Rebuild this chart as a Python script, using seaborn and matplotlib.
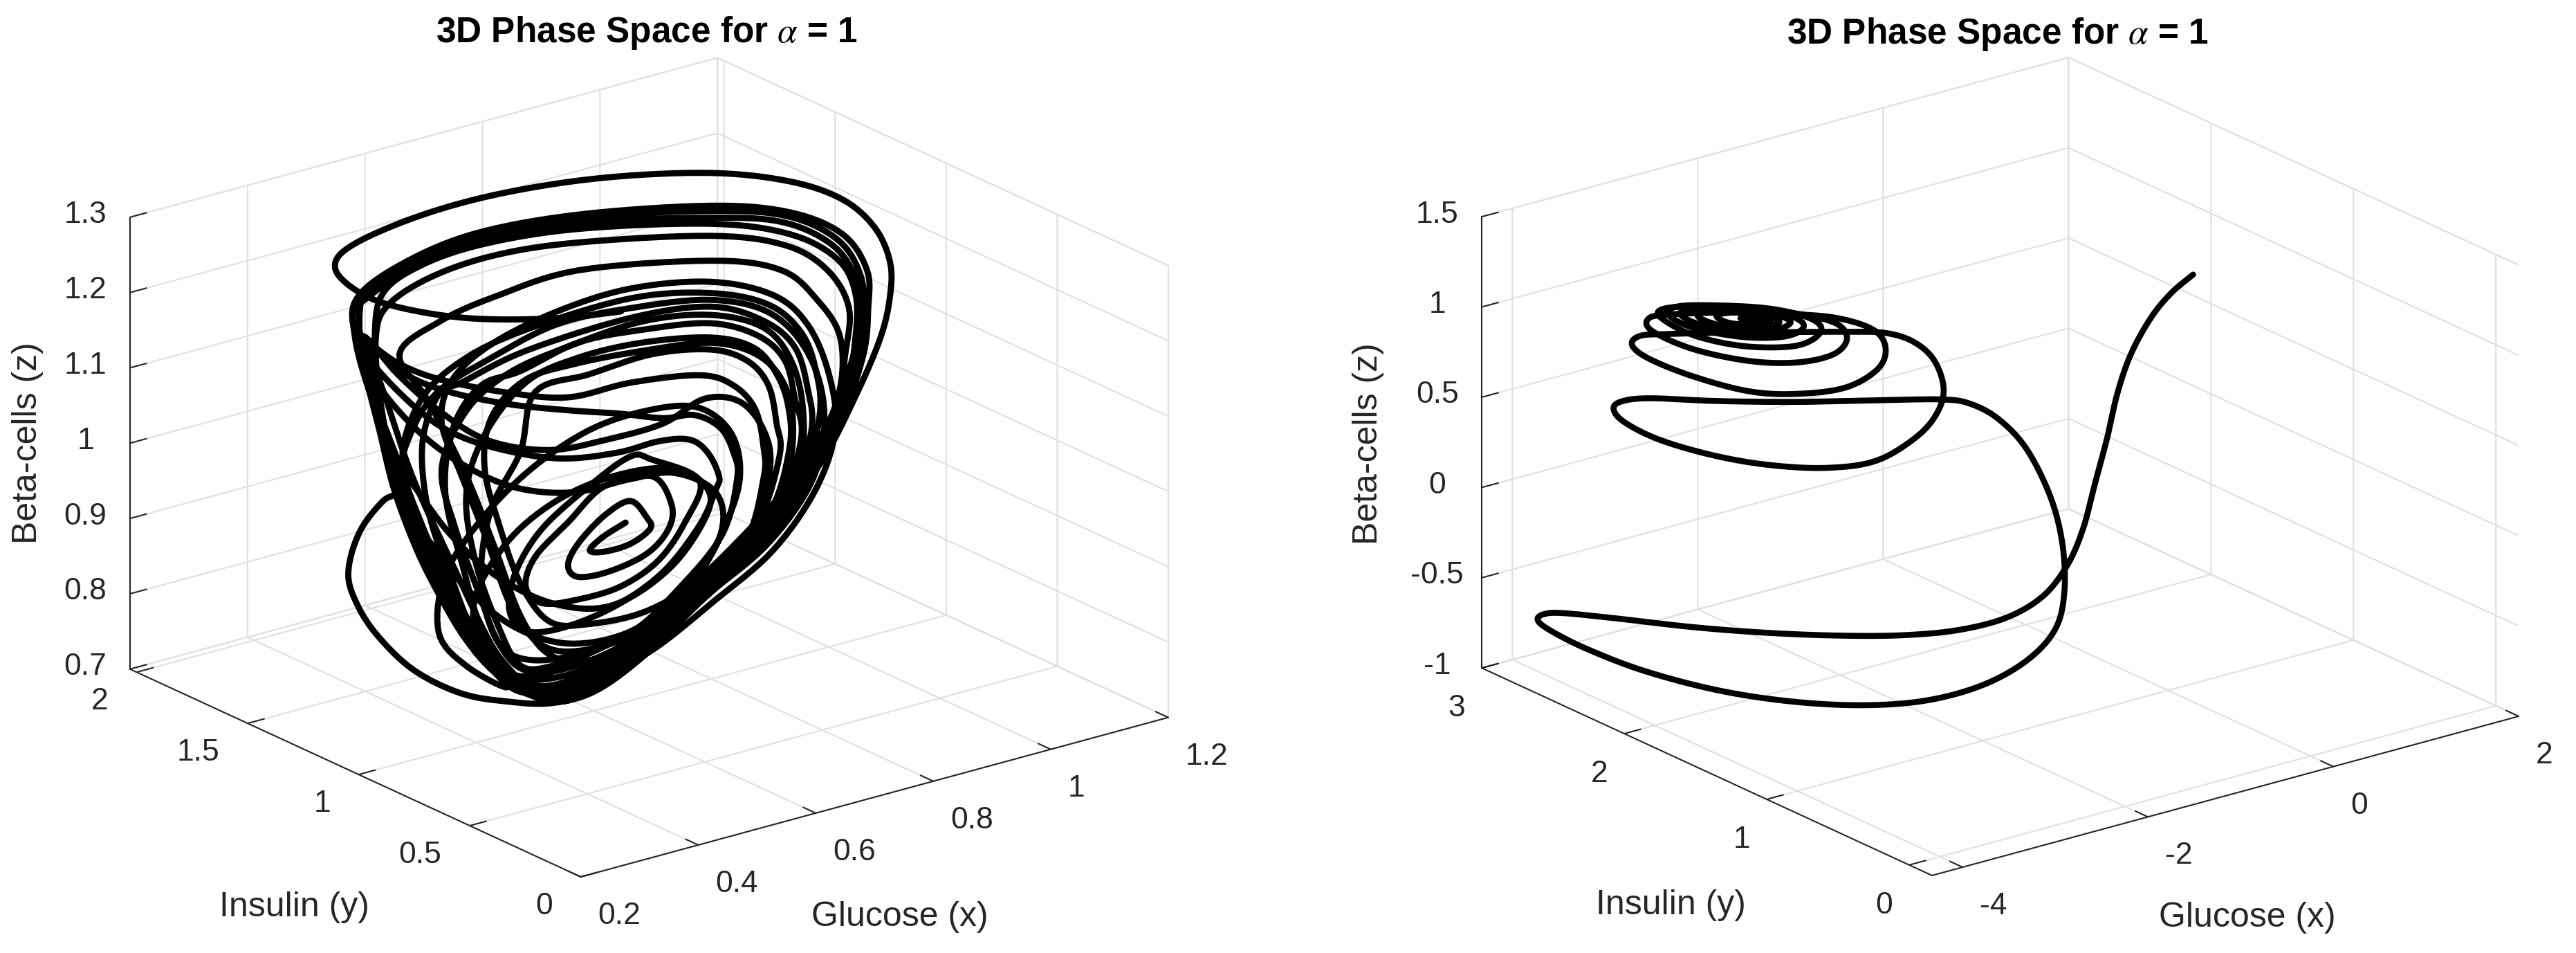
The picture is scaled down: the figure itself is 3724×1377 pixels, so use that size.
import matplotlib
matplotlib.use("Agg")
import matplotlib.pyplot as plt
import numpy as np
import seaborn as sns
from mpl_toolkits.mplot3d import proj3d

# chaotic run, values
glucose_a = [
    .703, .594, .451, .334, .393, .349, .377, .494, .636, .807, .988, .990, 1.080, 1.135, 1.161, 1.161,
    1.144, 1.099, 1.043, .946, .837, .739, .658, .585, .513, .432, .351, .289, .253, .239, .258, .298,
    .334, .309, .272, .250,
    .253, .326, .451, .630, .856, .990, 1.080, 1.122, 1.124, 1.116, 1.080, 1.027, .934, .828, .733, .644, .594,
    .541, .488, .432, .370, .328, .292, .264, .256,
    .261, .331, .454, .630, .856, .985, 1.071, 1.110, 1.116, 1.105, 1.068, 1.013, .920, .817, .722, .636, .588,
    .532, .479, .426, .365, .323, .286, .261, .259,
    .270, .337, .460, .630, .856, .979, 1.063, 1.102, 1.110, 1.096, 1.057, 1.001, .909, .806, .714, .627, .582,
    .527, .474, .420, .359, .317, .289, .284,
    .298, .362, .468, .630, .856, .990, 1.071, 1.102, 1.102, 1.083, 1.032, .915, .812, .717, .627, .582,
    .524, .471, .415, .354, .314, .292, .286,
    .306, .379, .488, .630, .856, .982, 1.054, 1.091, 1.085, 1.068, 1.007, .901, .801, .705, .622, .574,
    .515, .460, .404, .348, .309, .275, .261,
    .326, .395, .504, .613, .719,
    .837, .895, .932, .946, .946, .915, .831, .747, .650, .580, .532, .490, .440, .376, .326,
    .395, .488, .630, .856, .974, 1.035, 1.077, 1.071, 1.013, .901, .795, .700, .616, .566,
    .510, .454, .393, .337, .298, .270, .264,
    .328, .404, .510, .616, .700,
    .775, .828, .873, .895, .901, .876, .803, .719, .608, .527, .485, .465, .482, .532,
    .557, .649, .756, .856, .918, .954, .968, .973, .934, .851, .756, .664, .588, .532,
    .493, .454, .440, .471,
    .541, .630, .739, .856, .929, .968, .988, .990, .957, .873, .775, .678, .594, .515,
    .468, .434, .404, .418, .465,
    .532, .630, .739, .856, .937, .982, .999, 1.010, .973, .890, .789, .686, .599, .524,
    .462, .418, .376, .365, .393,
    .432, .541, .719, .856, .946, .999, 1.021, 1.027, .990, .906, .803, .697, .608, .538,
    .476, .426, .365, .331, .362,
    .432, .541, .719, .856, .954, 1.010, 1.035, 1.041, 1.007, .923, .817, .711, .616, .555,
    .496, .443, .376,
    .440, .524, .622, .733, .831, .890, .906, .887, .831, .747, .650, .552, .468, .404, .393, .440, .510,
    .454, .393, .342, .326,
    .412, .496, .594, .691, .789, .851, .845, .789, .691, .594, .510, .454, .468, .524,
    .482, .412, .348, .300, .264,
    .286, .356, .435, .524, .622, .719, .795, .865, .873, .817, .733, .622, .543, .496, .460, .420, .398, .440,
    .510, .608, .739, .856, .946, .993, 1.013, 1.007, .957, .867, .761, .655, .580, .524, .476, .432, .393, .356,
    .328, .348, .393, .482, .594, .719, .856, .957, 1.021, 1.049, 1.032, .957, .851, .747, .638, .577, .527, .471,
    .418, .376, .337, .303, .275, .264,
    .323, .393, .476, .580, .678, .775, .845, .906, .946, .957, .929, .851, .747, .644, .580, .532, .496, .471,
    .482, .538, .622, .739, .856, .934, .979, .996, .985, .937, .845, .739, .636, .566, .515, .476, .432, .398,
    .415, .482, .594, .719, .856, .962, 1.021, 1.057, 1.068, 1.035, .962, .862, .756, .649, .588, .543, .482, .437,
    .398, .356, .317, .292, .264, .264,
    .267, .328, .398, .482, .594, .694, .767, .820, .851, .870, .865, .837, .775, .694, .605, .541, .513, .524,
    .569, .650, .719, .756,
    .837, .812, .767, .703, .630, .569, .541, .557, .613, .675, .756,
    .789, .784, .747, .683, .630, .613, .630, .675, .719,
    .747, .753, .719, .675, .650, .672, .711,
]
insulin_a = [
    1.15, 1.15, 1.15, 1.15, 1.5, 1.5, 1.5, 1.5, 1.5, 1.5, 1.5, 1.15, 1.15, 1.15, 1.15, 1.15,
    1.15, 1.15, 1.15, 1.15, 1.15, 1.15, 1.15, 1.15, 1.15, 1.15, 1.15, 1.15, 1.15, 1.15, 1.15, 1.15,
    1.15, 1.15, 1.15, 1.15, 1.15, 1.15, 1.15, 1.15, 1.15, 1.15, 1.15, 1.15, 1.15, 1.15, 1.15, 1.15, 1.15, 1.15, 1.15, 1.15, 1.15, 1.15, 1.15,
    1.15, 1.15, 1.15, 1.15, 1.15, 1.15, 1.15, 1.15, 1.15, 1.15, 1.15, 1.15, 1.15, 1.15, 1.15, 1.15, 1.15, 1.15, 1.15, 1.15, 1.15, 1.15, 1.15, 1.15, 1.15,
    1.15, 1.15, 1.15, 1.15, 1.15, 1.15, 1.15, 1.15, 1.15, 1.15, 1.15, 1.15, 1.15, 1.15, 1.15, 1.15, 1.15, 1.15, 1.15, 1.15, 1.15, 1.15, 1.15, 1.15, 1.15,
    1.15, 1.15, 1.15, 1.15, 1.15, 1.15, 1.15, 1.15, 1.15, 1.15, 1.15, 1.15, 1.15, 1.15, 1.15, 1.15, 1.15, 1.15, 1.15, 1.15, 1.15, 1.15, 1.15, 1.15, 1.15,
    1.15, 1.15, 1.15, 1.15, 1.15, 1.15, 1.15, 1.15, 1.15, 1.15, 1.15, 1.15, 1.15, 1.15, 1.15, 1.15, 1.15, 1.15, 1.15, 1.15, 1.15, 1.15, 1.15, 1.15, 1.15,
    1.15, 1.15, 1.15, 1.15, 1.15, 1.15, 1.15, 1.15, 1.15, 1.15, 1.15, 1.15, 1.15, 1.15, 1.15, 1.15, 1.15, 1.15, 1.15, 1.15, 1.15, 1.15, 1.15, 1.15, 1.15,
    1.15, 1.15, 1.15, 1.15, 1.15, 1.15, 1.15, 1.15, 1.15, 1.15, 1.15, 1.15, 1.15, 1.15, 1.15, 1.15, 1.15, 1.15, 1.15, 1.15, 1.15, 1.15, 1.15, 1.15, 1.15,
    1.15, 1.15, 1.15, 1.15, 1.15, 1.15, 1.15, 1.15, 1.15, 1.15, 1.15, 1.15, 1.15, 1.15, 1.15, 1.15, 1.15, 1.15, 1.15, 1.15, 1.15, 1.15, 1.15, 1.15, 1.15,
    1.15, 1.15, 1.15, 1.15, 1.15, 1.15, 1.15, 1.15, 1.15, 1.15, 1.15, 1.15, 1.15, 1.15, 1.15, 1.15, 1.15, 1.15, 1.15, 1.15, 1.15, 1.15, 1.15, 1.15, 1.15,
    1.15, 1.15, 1.15, 1.15, 1.15, 1.15, 1.15, 1.15, 1.15, 1.15, 1.15, 1.15, 1.15, 1.15, 1.15, 1.15, 1.15, 1.15, 1.15, 1.15, 1.15, 1.15, 1.15, 1.15, 1.15,
    1.15, 1.15, 1.15, 1.15, 1.15, 1.15, 1.15, 1.15, 1.15, 1.15, 1.15, 1.15, 1.15, 1.15, 1.15, 1.15, 1.15, 1.15, 1.15, 1.15, 1.15, 1.15, 1.15, 1.15, 1.15,
    1.15, 1.15, 1.15, 1.15, 1.15, 1.15, 1.15, 1.15, 1.15, 1.15, 1.15, 1.15, 1.15, 1.15, 1.15, 1.15, 1.15, 1.15, 1.15, 1.15, 1.15, 1.15, 1.15, 1.15, 1.15,
    1.15, 1.15, 1.15, 1.15, 1.15, 1.15, 1.15, 1.15, 1.15, 1.15, 1.15, 1.15, 1.15, 1.15, 1.15, 1.15, 1.15, 1.15, 1.15, 1.15, 1.15, 1.15, 1.15, 1.15, 1.15,
    1.15, 1.15, 1.15, 1.15, 1.15, 1.15, 1.15, 1.15, 1.15, 1.15, 1.15, 1.15, 1.15, 1.15, 1.15, 1.15, 1.15, 1.15, 1.15, 1.15, 1.15, 1.15, 1.15, 1.15, 1.15,
    1.15, 1.15, 1.15, 1.15, 1.15, 1.15, 1.15, 1.15, 1.15, 1.15, 1.15, 1.15, 1.15, 1.15, 1.15, 1.15, 1.15, 1.15, 1.15, 1.15, 1.15, 1.15, 1.15, 1.15, 1.15,
    1.15, 1.15, 1.15, 1.15, 1.15, 1.15, 1.15, 1.15, 1.15, 1.15, 1.15, 1.15, 1.15, 1.15, 1.15, 1.15, 1.15, 1.15, 1.15, 1.15, 1.15, 1.15, 1.15, 1.15, 1.15,
    1.15, 1.15, 1.15, 1.15, 1.15, 1.15, 1.15, 1.15, 1.15, 1.15, 1.15, 1.15, 1.15, 1.15, 1.15, 1.15, 1.15, 1.15, 1.15, 1.15, 1.15, 1.15, 1.15, 1.15, 1.15, 1.15, 1.15,
    1.15, 1.15, 1.15, 1.15, 1.15, 1.15, 1.15, 1.15, 1.15, 1.15, 1.15, 1.15, 1.15, 1.15, 1.15, 1.15, 1.15, 1.15, 1.15, 1.15, 1.15, 1.15, 1.15, 1.15, 1.15, 1.15, 1.15, 1.15, 1.15, 1.15,
    1.15, 1.15, 1.15, 1.15, 1.15, 1.15, 1.15, 1.15, 1.15, 1.15, 1.15, 1.15, 1.15, 1.15, 1.15, 1.15, 1.15, 1.15, 1.15, 1.15, 1.15, 1.15, 1.15, 1.15, 1.15, 1.15, 1.15, 1.15, 1.15, 1.15,
]
beta_a = [
    1.188, 1.202, 1.232, 1.270, 1.230, 1.272, 1.297, 1.312, 1.312, 1.296, 1.264, 1.300, 1.257, 1.208, 1.157, 1.111,
    1.058, .986, .915, .831, .773, .721, .693, .693, .710, .738, .786, .845, .896, .940, .989, 1.022,
    1.034, 1.103, 1.180, 1.251,
    1.300, 1.329, 1.344, 1.332, 1.296, 1.259, 1.211, 1.154, 1.103, 1.044, .969, .910, .838, .779, .727, .695, .693,
    .717, .770, .839, .954, 1.040, 1.144, 1.226, 1.282,
    1.303, 1.325, 1.339, 1.328, 1.289, 1.255, 1.206, 1.152, 1.101, 1.042, .969, .908, .836, .779, .729, .699, .698,
    .726, .781, .849, .964, 1.050, 1.149, 1.233, 1.286,
    1.297, 1.318, 1.331, 1.321, 1.280, 1.248, 1.200, 1.148, 1.098, 1.039, .967, .906, .834, .777, .731, .703, .702,
    .731, .788, .854, .972, 1.060, 1.155, 1.244,
    1.298, 1.321, 1.327, 1.313, 1.272, 1.230, 1.180, 1.128, 1.067, .988, .913, .833, .778, .730, .701, .700,
    .732, .791, .860, .978, 1.073, 1.165, 1.243,
    1.280, 1.302, 1.308, 1.295, 1.256, 1.217, 1.169, 1.111, 1.051, .980, .910, .834, .778, .733, .707, .708,
    .738, .802, .875, .983, 1.085, 1.186, 1.242,
    1.198, 1.163, 1.123, 1.093, 1.090,
    1.075, 1.049, 1.009, .955, .916, .837, .778, .746, .736, .759, .820, .916, 1.025, 1.137, 1.211,
    1.240, 1.253, 1.258, 1.223, 1.186, 1.135, 1.072, .992, .915, .840, .784, .738, .717, .719,
    .752, .821, .899, 1.003, 1.116, 1.203, 1.248,
    1.188, 1.146, 1.106, 1.075, 1.053,
    1.031, 1.024, .997, .959, .925, .856, .800, .758, .749, .766, .808, .888, .972, 1.038,
    1.112, 1.116, 1.120, 1.105, 1.077, 1.037, .983, .939, .855, .803, .766, .748, .742, .754,
    .817, .913, 1.003, 1.073,
    1.128, 1.142, 1.139, 1.121, 1.092, 1.049, 1.001, .946, .868, .807, .762, .739, .734, .747,
    .811, .906, 1.011, 1.095, 1.140,
    1.145, 1.162, 1.156, 1.140, 1.106, 1.064, 1.010, .955, .873, .810, .763, .733, .725, .741,
    .797, .887, .990, 1.084, 1.144,
    1.151, 1.170, 1.176, 1.162, 1.124, 1.078, 1.018, .960, .876, .813, .769, .730, .716, .729,
    .785, .862, .975, 1.070, 1.142,
    1.180, 1.198, 1.202, 1.180, 1.144, 1.095, 1.039, .977, .888, .818, .770, .727, .708, .717,
    .768, .832, .951,
    .876, .806, .764, .762, .807, .882, .937, .992, 1.034, 1.047, 1.042, 1.012, .964, .901, .827, .773, .730,
    .792, .893, 1.002, 1.060,
    .954, .878, .822, .801, .831, .890, .928, .962, .972, .960, .923, .858, .789, .741,
    .793, .921, 1.044, 1.164, 1.248,
    1.184, 1.104, 1.041, .992, .965, .962, .954, .913, .857, .797, .762, .742, .745, .790, .868, .963, 1.045, 1.112,
    1.146, 1.160, 1.167, 1.151, 1.115, 1.061, .992, .916, .846, .790, .747, .722, .711, .723, .768, .821, .882, .966,
    1.048, 1.106, 1.148, 1.173, 1.194, 1.189, 1.171, 1.132, 1.066, .984, .900, .829, .781, .737, .712, .705, .727, .778,
    .844, .918, 1.014, 1.102, 1.191, 1.248,
    1.185, 1.122, 1.065, 1.030, 1.023, 1.024, 1.042, 1.025, .979, .927, .852, .807, .781, .785, .803, .863, .948, 1.029,
    1.093, 1.131, 1.135, 1.128, 1.114, 1.082, 1.036, .978, .906, .837, .791, .756, .752, .775, .838, .930, 1.027, 1.104,
    1.157, 1.191, 1.211, 1.215, 1.195, 1.155, 1.103, 1.030, .954, .882, .816, .770, .727, .705, .705, .714, .760, .811,
    .870, .944, 1.033, 1.117, 1.211, 1.248,
    1.225, 1.158, 1.099, 1.055, 1.016, 1.002, 1.002, .993, .969, .934, .918, .876, .827, .799, .789, .798, .832, .880,
    .928, .968, .992, .980,
    .935, .885, .844, .823, .821, .829, .857, .893, .927, .962, .958,
    .914, .882, .857, .847, .851, .870, .895, .923, .933,
    .905, .889, .876, .875, .882, .895, .906,
]
# second run, spiralling in from the start point
glucose_b = [
    1.807, 1.572, 1.355, 1.138, .991, .878, .747, .617, .444, .183, -.208, -.729, -1.337, -2.031, -2.813, -3.595,
    -3.454, -4.062, -4.279, -4.340, -4.192, -3.801, -4.116, -3.334,
    -3.321, -2.540, -1.845, -1.237, -.760, -.456, -.352, -.369, -.499, -.760, -1.064, -1.368, -1.672,
    -1.597, -2.466, -3.334, -4.029,
    -3.411, -3.524, -3.411, -3.020, -2.412, -1.804, -1.196, -.675, -.241, -.024, .037, -.067, -.284, -.588, -1.022,
    -1.630, -2.238, -2.933, -3.237, -3.324, -3.150, -2.672, -2.065, -1.544, -1.023, -.675, -.588, -.718, -1.109,
    -1.630, -2.238, -2.933, -3.150, -3.107, -2.672, -2.065, -1.544, -1.153, -1.005, -1.109, -1.457, -1.891, -2.586,
    -2.976, -3.020, -2.672, -2.152, -1.630, -1.370, -1.283, -1.457, -1.891, -2.499, -2.846, -2.933, -2.672, -2.152,
    -1.717, -1.500, -1.500, -1.761, -2.238, -2.672, -2.803, -2.586, -2.152, -1.804, -1.613, -1.804, -2.195, -2.542,
    -2.603, -2.325, -1.978, -1.735, -1.891, -2.195, -2.412, -2.282, -1.978, -1.830, -1.978, -2.152, -2.065, -1.891,
]
insulin_b = [
    2.0, 2.0, 2.0, 2.0, 2.0, 2.0, 2.0, 2.0, 2.0, 2.0, 2.0, 2.0, 2.0, 2.0, 2.0, 2.0,
    2.6, 2.6, 2.6, 2.6, 2.6, 2.6, 2.0, 2.0,
    1.5, 1.5, 1.5, 1.5, 1.5, 1.5, 1.5, 1.5, 1.5, 1.5, 1.5, 1.5, 1.5,
    2.0, 2.0, 2.0, 2.0,
    2.6, 2.6, 2.6, 2.6, 2.6, 2.6, 2.6, 2.6, 2.6, 2.6, 2.6, 2.6, 2.6, 2.6, 2.6,
    2.6, 2.6, 2.6, 2.6, 2.6, 2.6, 2.6, 2.6, 2.6, 2.6, 2.6, 2.6, 2.6, 2.6,
    2.6, 2.6, 2.6, 2.6, 2.6, 2.6, 2.6, 2.6, 2.6, 2.6, 2.6, 2.6, 2.6, 2.6,
    2.6, 2.6, 2.6, 2.6, 2.6, 2.6, 2.6, 2.6, 2.6, 2.6, 2.6, 2.6, 2.6, 2.6,
    2.6, 2.6, 2.6, 2.6, 2.6, 2.6, 2.6, 2.6, 2.6, 2.6, 2.6, 2.6, 2.6, 2.6,
    2.6, 2.6, 2.6, 2.6, 2.6, 2.6, 2.6, 2.6, 2.6, 2.6, 2.6, 2.6, 2.6, 2.6,
]
beta_b = [
    .688, .619, .514, .343, .145, -.091, -.325, -.559, -.737, -.869, -.932, -.928, -.872, -.777, -.652, -.512,
    -.704, -.588, -.564, -.590, -.670, -.825, -.682, -.897,
    -.779, -.910, -.981, -.981, -.912, -.786, -.599, -.328, -.042, .263, .471, .597, .663,
    .466, .578, .704, .816,
    .498, .473, .381, .226, .052, -.084, -.182, -.213, -.138, -.033, .092, .258, .388, .480, .547,
    .630, .713, .801, .833, .795, .697, .531, .363, .276, .238, .291, .396, .515, .635,
    .731, .824, .909, .915, .842, .682, .531, .450, .440, .504, .602, .700, .787, .905,
    .948, .907, .760, .627, .549, .554, .609, .693, .800, .900, .940, .909, .800, .677,
    .615, .622, .672, .759, .851, .907, .892, .805, .708, .664, .682, .755, .834, .876,
    .847, .759, .704, .698, .760, .818, .831, .773, .717, .717, .757, .781, .746, .716,
]

x_ticks_a = [0.2, 0.4, 0.6, 0.8, 1, 1.2]
y_ticks_a = [0, 0.5, 1, 1.5, 2]
z_ticks_a = [0.7, 0.8, 0.9, 1, 1.1, 1.2, 1.3]
x_ticks_b = [-4, -2, 0, 2]
y_ticks_b = [0, 1, 2, 3]
z_ticks_b = [-1, -0.5, 0, 0.5, 1, 1.5]

W, H = 3724, 1377
DARK = "#262626"
GRID = "#e0e0e0"

sns.set_theme(style="white", rc={"mathtext.fontset": "stix"})
plt.rcParams["font.family"] = ["Liberation Sans", "DejaVu Sans"]


def curve(*series, steps=8):
    # draw a round curve through the read points instead of straight chords
    pts = np.column_stack(series)
    p = np.vstack([pts[0], pts, pts[-1]])
    t = np.linspace(0, 1, steps, endpoint=False)[:, None, None]
    p0, p1, p2, p3 = p[:-3], p[1:-2], p[2:-1], p[3:]
    seg = 0.5 * (2 * p1 + (p2 - p0) * t + (2 * p0 - 5 * p1 + 4 * p2 - p3) * t ** 2
                 + (3 * p1 - p0 - 3 * p2 + p3) * t ** 3)
    out = np.vstack([seg.transpose(1, 0, 2).reshape(-1, 3), pts[-1]])
    return out[:, 0], out[:, 1], out[:, 2]


def style_axes(ax, xlim, ylim, zlim, xticks, yticks, zticks, y_align, y_pad):
    ax.set_proj_type("ortho")
    ax.view_init(elev=20.7, azim=-127.5)
    ax.set_box_aspect((1, 1, 0.652))
    ax.set_xticks(xticks, [f"{t:g}" for t in xticks])
    ax.set_yticks(yticks, [f"{t:g}" for t in yticks])
    ax.set_zticks(zticks, [f"{t:g}" for t in zticks])
    ax.set_xlim(*xlim)
    ax.set_ylim(*ylim)
    ax.set_zlim(*zlim)
    ax.patch.set_alpha(0)
    for axis in (ax.xaxis, ax.yaxis, ax.zaxis):
        axis.pane.set_facecolor((1, 1, 1, 0))
        axis.pane.set_edgecolor(GRID)
        axis.pane.set_linewidth(1.5)
        axis.line.set_color(DARK)
        axis.line.set_linewidth(1.5)
        axis._axinfo["grid"].update(color=GRID, linewidth=1.5)
        axis._axinfo["tick"].update(inward_factor=0, outward_factor=0.35,
                                    linewidth={True: 1.5, False: 1.0}, color=DARK)
    ax.grid(True)
    ax.tick_params(axis="x", labelsize=32, labelcolor=DARK, colors=DARK, pad=15)
    ax.tick_params(axis="y", labelsize=32, labelcolor=DARK, colors=DARK, pad=y_pad)
    ax.tick_params(axis="z", labelsize=32, labelcolor=DARK, colors=DARK, pad=18)
    for tick in ax.xaxis.get_major_ticks():
        tick.label1.set_ha("left")
    for tick in ax.yaxis.get_major_ticks():
        tick.label1.set_ha(y_align[0])
        tick.label1.set_va(y_align[1])
    for tick in ax.zaxis.get_major_ticks():
        tick.label1.set_va("center")


def corner_px(ax, x, y, z):
    px, py, _ = proj3d.proj_transform(x, y, z, ax.get_proj())
    return ax.transData.transform((px, py))


def fit_box(fig, ax, lims, left_px, right_px, origin):
    # scale and shift the 3d box so its corners land where the reference has them
    (x0, x1), (y0, y1), (z0, z1) = lims
    fig.canvas.draw()
    span = corner_px(ax, x1, y0, z0)[0] - corner_px(ax, x0, y1, z0)[0]
    pos = ax.get_position()
    side = pos.width * W * (right_px - left_px) / span
    ax.set_position([pos.x0, pos.y0, side / W, side / H])
    fig.canvas.draw()
    o = corner_px(ax, x0, y0, z0)
    pos = ax.get_position()
    ax.set_position([pos.x0 + (origin[0] - o[0]) / W, pos.y0 + (H - origin[1] - o[1]) / H,
                     pos.width, pos.height])


fig = plt.figure(figsize=(W / 100, H / 100), dpi=100, facecolor="white")
ax_a = fig.add_axes([0.02, 0.02, 0.35, 0.9], projection="3d")
ax_b = fig.add_axes([0.55, 0.02, 0.35, 0.9], projection="3d")

lims_a = ((0.2, 1.2), (0, 2.03), (0.7, 1.3))
lims_b = ((-4.33, 2), (-0.16, 3), (-1, 1.5))

ax_a.plot(*curve(glucose_a, insulin_a, beta_a), color="black", lw=6.4, solid_joinstyle="round")
ax_b.plot(*curve(glucose_b, insulin_b, beta_b), color="black", lw=6.2, solid_joinstyle="round")

style_axes(ax_a, *lims_a, x_ticks_a, y_ticks_a, z_ticks_a, ("right", "center"), 21)
style_axes(ax_b, *lims_b, x_ticks_b, y_ticks_b, z_ticks_b, ("center", "top"), 18)

fit_box(fig, ax_a, lims_a, 190, 1691, (839.6, 1267))
fit_box(fig, ax_b, lims_b, 2142, 3641, (2793, 1265))

title = r"3D Phase Space for $\alpha$ = 1"
for cx, cy in [(935, 47), (2888, 50)]:
    fig.text(cx / W, 1 - cy / H, title, ha="center", va="center", fontsize=37,
             fontweight="bold", color="black")
for cx, cy in [(425, 1311), (2415, 1308)]:
    fig.text(cx / W, 1 - cy / H, "Insulin (y)", ha="center", va="center", fontsize=36, color=DARK)
for cx, cy in [(1301, 1325), (3249, 1326)]:
    fig.text(cx / W, 1 - cy / H, "Glucose (x)", ha="center", va="center", fontsize=36, color=DARK)
for cx, cy in [(40, 640), (1978, 641)]:
    fig.text(cx / W, 1 - cy / H, "Beta-cells (z)", ha="center", va="center", rotation=90,
             fontsize=36, color=DARK)

fig.savefig("out.png", dpi=100)
plt.close(fig)
